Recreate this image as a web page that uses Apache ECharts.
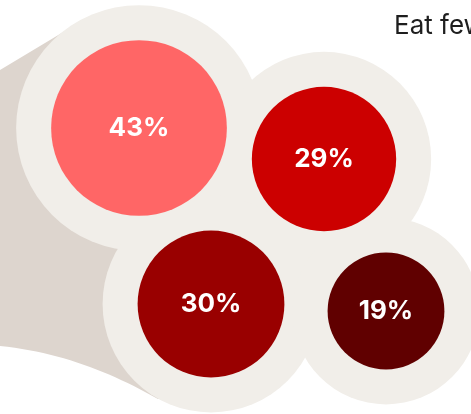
<!DOCTYPE html>
<html>
<head>
<meta charset="utf-8">
<script src="https://cdn.jsdelivr.net/npm/echarts@6/dist/echarts.min.js"></script>
<style>
  html, body { margin: 0; padding: 0; background: #ffffff; }
  #chart { width: 471px; height: 414px; }
</style>
</head>
<body>
<div id="chart"></div>
<script>
// Share of respondents per group (percent)
var groups = ['A', 'B', 'C', 'D'];
var shares = [43, 29, 30, 19];
var bubbleColors = ['#ff6666', '#cc0000', '#990000', '#600000'];

// Packed bubble layout: centre of each bubble in plot units
var layoutX = [139, 324, 211, 386];
var layoutY = [128, 159, 304, 311];

var titleText = 'Eat fewer';

// Bubble area proportional to value
var SCALE = 13.4;      // radius per sqrt(value)
var HALO_PAD = 35;     // ring width around each bubble
function radiusOf(v) { return SCALE * Math.sqrt(v); }

var points = shares.map(function (v, i) {
  return { name: groups[i], value: [layoutX[i], layoutY[i], v],
           itemStyle: { color: bubbleColors[i] } };
});
var halos = shares.map(function (v, i) {
  return { name: groups[i], value: [layoutX[i], layoutY[i], v] };
});

// Backdrop outline: straight upper edge, curved lower edge (cubic Bezier sampled)
function backdropPoints() {
  var pts = [[0, 70], [75, 25], [250, 120], [250, 380], [158, 399]];
  var p0 = [158, 399], c1 = [110, 372], c2 = [60, 352], p3 = [0, 346];
  for (var k = 1; k <= 24; k++) {
    var t = k / 24, u = 1 - t;
    pts.push([
      u*u*u*p0[0] + 3*u*u*t*c1[0] + 3*u*t*t*c2[0] + t*t*t*p3[0],
      u*u*u*p0[1] + 3*u*u*t*c1[1] + 3*u*t*t*c2[1] + t*t*t*p3[1]
    ]);
  }
  return pts;
}

var chart = echarts.init(document.getElementById('chart'), null, { renderer: 'canvas' });

chart.setOption({
  animation: false,
  backgroundColor: '#ffffff',
  title: {
    text: titleText,
    left: 389,
    top: 8,
    textStyle: { fontFamily: 'Inter', fontWeight: 400, fontSize: 26, color: '#1e1e1e' }
  },
  grid: { left: 0, top: 0, right: 0, bottom: 0 },
  xAxis: { type: 'value', min: 0, max: 471, show: false },
  yAxis: { type: 'value', min: 0, max: 414, inverse: true, show: false },
  graphic: [{
    type: 'polygon',
    z: 0,
    silent: true,
    shape: { points: backdropPoints() },
    style: { fill: '#ddd5ce' }
  }],
  series: [
    {
      type: 'scatter',
      z: 2,
      silent: true,
      clip: false,
      symbol: 'circle',
      symbolSize: function (val) { return 2 * (radiusOf(val[2]) + HALO_PAD); },
      itemStyle: { color: '#f1eee9', opacity: 1 },
      data: halos
    },
    {
      type: 'scatter',
      z: 3,
      silent: true,
      clip: false,
      symbol: 'circle',
      symbolSize: function (val) { return 2 * radiusOf(val[2]); },
      itemStyle: { opacity: 1 },
      label: {
        show: true,
        position: 'inside',
        formatter: function (p) { return p.value[2] + '%'; },
        color: '#ffffff',
        fontFamily: 'Inter',
        fontWeight: 700,
        fontSize: 26
      },
      data: points
    }
  ]
});
</script>
</body>
</html>
